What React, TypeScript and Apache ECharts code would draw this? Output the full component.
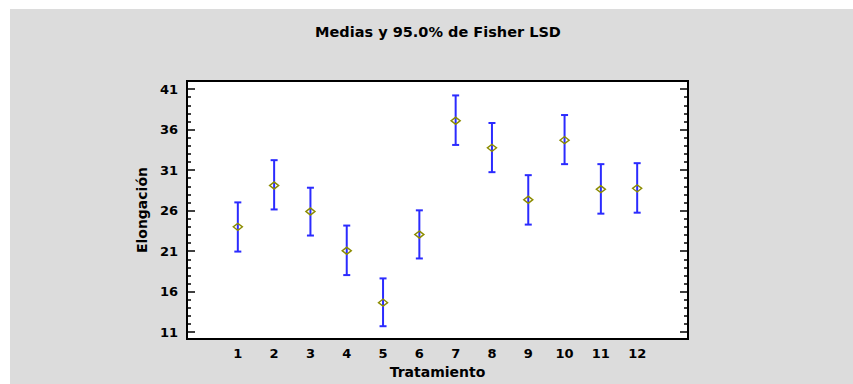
import React, { useEffect, useRef } from "react";
import * as echarts from "echarts";

const categories = [1, 2, 3, 4, 5, 6, 7, 8, 9, 10, 11, 12];
const means = [24.0, 29.1, 25.9, 21.05, 14.65, 23.05, 37.1, 33.75, 27.35, 34.7, 28.65, 28.75];
const lower = [20.95, 26.15, 22.93, 18.05, 11.74, 20.1, 34.11, 30.75, 24.28, 31.74, 25.63, 25.75];
const upper = [27.02, 32.23, 28.83, 24.16, 17.64, 26.04, 40.22, 36.82, 30.38, 37.8, 31.74, 31.86];
const yMajorTicks = [11, 16, 21, 26, 31, 36, 41];
const yMinorTicks = [12, 13, 14, 15, 17, 18, 19, 20, 22, 23, 24, 25, 27, 28, 29, 30, 32, 33, 34, 35, 37, 38, 39, 40];

const titleText = "Medias y 95.0% de Fisher LSD";
const xName = "Tratamiento";
const yName = "Elongación";

const FONT = "'DejaVu Sans', sans-serif";

export default function App() {
  const ref = useRef<HTMLDivElement>(null);
  useEffect(() => {
    if (!ref.current) return;
    const chart = echarts.init(ref.current, undefined, { renderer: "svg" });
    const yMin = 10.15;
    const yMax = 42;
    const baseY = {
      type: "value",
      gridIndex: 0,
      min: yMin,
      max: yMax,
      splitLine: { show: false },
      axisLine: { show: false, onZero: false },
    };
    const majorTick = { show: true, inside: true, length: 8, customValues: yMajorTicks, lineStyle: { color: "#000", width: 1.5 } };
    const minorTick = { show: true, inside: true, length: 4, customValues: yMinorTicks, lineStyle: { color: "#000", width: 1.5 } };
    const labelStyle = { fontSize: 13, fontWeight: "bold", color: "#000", fontFamily: FONT };
    const nameStyle = { fontSize: 14, fontWeight: "bold", color: "#000", fontFamily: FONT };
    chart.setOption({
      animation: false,
      backgroundColor: "#ffffff",
      textStyle: { fontFamily: FONT },
      graphic: [
        {
          type: "rect",
          z: -100,
          silent: true,
          shape: { x: 10, y: 9, width: 843, height: 375 },
          style: { fill: "#dcdcdc" },
        },
        {
          type: "text",
          z: 10,
          silent: true,
          x: 438,
          y: 32,
          style: {
            text: titleText,
            textAlign: "center",
            textVerticalAlign: "middle",
            fontSize: 14.5,
            fontWeight: "bold",
            fontFamily: FONT,
            fill: "#000",
          },
        },
      ],
      grid: {
        left: 187,
        top: 81,
        width: 501,
        height: 259,
        show: true,
        backgroundColor: "#ffffff",
        borderColor: "#000",
        borderWidth: 2,
      },
      xAxis: {
        type: "value",
        min: -0.4,
        max: 13.4,
        name: xName,
        nameLocation: "middle",
        nameGap: 24,
        nameTextStyle: nameStyle,
        axisLine: { show: false, onZero: false },
        axisTick: { show: false },
        splitLine: { show: false },
        axisLabel: { customValues: categories, margin: 8, ...labelStyle },
      },
      yAxis: [
        {
          ...baseY,
          position: "left",
          name: yName,
          nameLocation: "middle",
          nameGap: 38,
          nameTextStyle: nameStyle,
          axisTick: majorTick,
          axisLabel: { customValues: yMajorTicks, margin: 9, ...labelStyle },
        },
        { ...baseY, position: "left", axisTick: minorTick, axisLabel: { show: false } },
        { ...baseY, position: "right", axisTick: majorTick, axisLabel: { show: false } },
        { ...baseY, position: "right", axisTick: minorTick, axisLabel: { show: false } },
      ],
      series: [
        {
          type: "custom",
          xAxisIndex: 0,
          yAxisIndex: 0,
          data: categories.map((c, i) => [c, lower[i], upper[i]]),
          renderItem: (params: any, api: any) => {
            const x = api.value(0);
            const lo = api.coord([x, api.value(1)]);
            const hi = api.coord([x, api.value(2)]);
            const hw = 3.5;
            const style = { stroke: "#2b2bff", lineWidth: 2 };
            return {
              type: "group",
              children: [
                { type: "line", shape: { x1: lo[0], y1: lo[1], x2: hi[0], y2: hi[1] }, style },
                { type: "line", shape: { x1: hi[0] - hw, y1: hi[1], x2: hi[0] + hw, y2: hi[1] }, style },
                { type: "line", shape: { x1: lo[0] - hw, y1: lo[1], x2: lo[0] + hw, y2: lo[1] }, style },
              ],
            };
          },
          z: 2,
        },
        {
          type: "scatter",
          xAxisIndex: 0,
          yAxisIndex: 0,
          data: categories.map((c, i) => [c, means[i]]),
          symbol: "diamond",
          symbolSize: [9, 7],
          itemStyle: { color: "rgba(255,255,255,0)", borderColor: "#8c8c00", borderWidth: 1.5, opacity: 1 },
          z: 3,
        },
      ],
    });
    return () => chart.dispose();
  }, []);
  return (
    <div
      ref={ref}
      style={{ position: "fixed", left: 0, top: 0, width: 853, height: 384 }}
    />
  );
}
